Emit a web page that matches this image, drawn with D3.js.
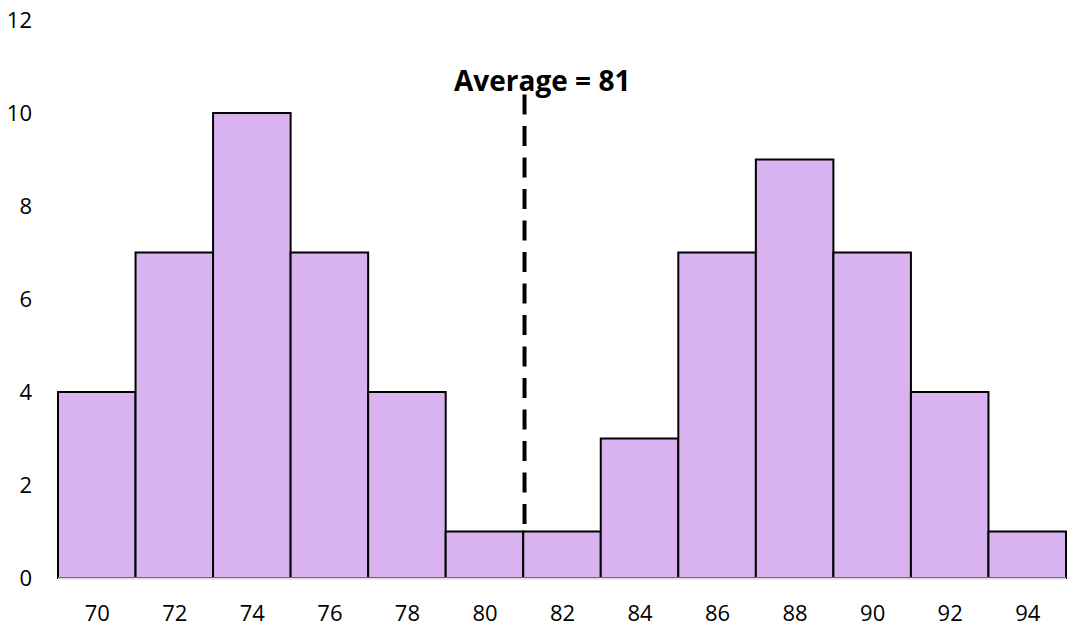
<!DOCTYPE html>
<html>
<head>
<meta charset="utf-8">
<script src="https://cdn.jsdelivr.net/npm/d3@7"></script>
<style>
  html, body { margin: 0; padding: 0; background: #fff; }
  svg { display: block; }
</style>
</head>
<body>
<svg id="chart" width="1079" height="640"></svg>
<script>
// Data
const binCenters = [70, 72, 74, 76, 78, 80, 82, 84, 86, 88, 90, 92, 94];
const counts = [4, 7, 10, 7, 4, 1, 1, 3, 7, 9, 7, 4, 1];
const binWidth = 2;
const yTicks = [0, 2, 4, 6, 8, 10, 12];
const averageValue = 81;
const averageLabel = "Average = 81";

(function () {
const svg = d3.select("#chart");
const mLeft = 58, mRight = 1066, mTop = 20, mBottom = 578;

const x = d3.scaleLinear().domain([69, 95]).range([mLeft, mRight]);
const y = d3.scaleLinear().domain([0, 12]).range([mBottom, mTop]);

const font = "'Open Sans', 'Liberation Sans', sans-serif";

// dashed average line (behind bars)
svg.append("line")
  .attr("x1", x(averageValue) + 1.3).attr("x2", x(averageValue) + 1.3)
  .attr("y1", y(10.4)).attr("y2", mBottom)
  .attr("stroke", "#000").attr("stroke-width", 4)
  .attr("stroke-dasharray", "20 11.5");

// bars
svg.selectAll("rect.bar").data(binCenters).join("rect")
  .attr("class", "bar")
  .attr("x", d => x(d - binWidth / 2))
  .attr("width", d => x(d + binWidth / 2) - x(d - binWidth / 2))
  .attr("y", (d, i) => y(counts[i]))
  .attr("height", (d, i) => y(0) - y(counts[i]))
  .attr("fill", "#d9b3f0")
  .attr("stroke", "#000")
  .attr("stroke-width", 2);

// baseline axis
svg.append("line")
  .attr("x1", mLeft).attr("x2", mRight)
  .attr("y1", y(0) + 0.5).attr("y2", y(0) + 0.5)
  .attr("stroke", "#d9d9d9").attr("stroke-width", 2);

// y axis labels
const yAxis = d3.axisLeft(y).tickValues(yTicks).tickSize(0).tickPadding(0);
const gy = svg.append("g").attr("transform", "translate(32,0)").call(yAxis);
gy.select(".domain").remove();
gy.selectAll("text")
  .attr("font-family", font).attr("font-size", 22).attr("fill", "#000")
  .attr("dy", "0.36em");

// x axis labels
const xAxis = d3.axisBottom(x).tickValues(binCenters).tickSize(0).tickPadding(0);
const gx = svg.append("g").attr("transform", `translate(0,${mBottom})`).call(xAxis);
gx.select(".domain").remove();
gx.selectAll("text")
  .attr("font-family", font).attr("font-size", 22).attr("fill", "#000")
  .attr("y", 35).attr("dy", "0.36em");

// average label
svg.append("text")
  .attr("x", x(averageValue) + 19)
  .attr("y", 91)
  .attr("text-anchor", "middle")
  .attr("font-family", font)
  .attr("font-weight", "bold")
  .attr("font-size", 28)
  .attr("fill", "#000")
  .text(averageLabel);
})();
</script>
</body>
</html>
